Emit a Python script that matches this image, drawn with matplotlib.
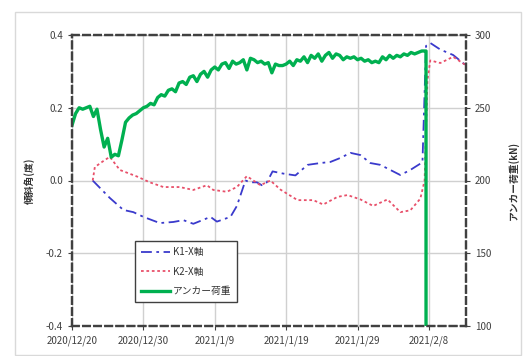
#!/usr/bin/env python3

import matplotlib
matplotlib.use('Agg')
import matplotlib.pyplot as plt
import matplotlib.dates as mdates
import pandas as pd
from matplotlib.patches import Rectangle

plt.rcParams['font.family'] = ['Noto Sans CJK JP', 'DejaVu Sans']

start = pd.Timestamp('2020-12-20')

# anchor load (kN), half-day samples from 12/20
load_days = [i * 0.5 for i in range(100)] + [49.6, 49.6]
load_kN = [238, 246, 250, 249, 250, 251, 244, 249, 235, 223,
           229, 216, 218, 217, 228, 240, 243, 245, 246, 248,
           250, 251, 253, 252, 257, 259, 258, 262, 263, 261,
           267, 268, 266, 271, 272, 268, 273, 275, 271, 276,
           278, 276, 280, 281, 277, 282, 280, 281, 283, 276,
           284, 283, 281, 282, 280, 281, 274, 280, 279, 279,
           280, 282, 279, 283, 282, 285, 281, 286, 284, 287,
           282, 286, 288, 284, 287, 286, 283, 285, 284, 285,
           283, 284, 282, 283, 281, 282, 281, 285, 283, 286,
           284, 286, 285, 287, 286, 288, 287, 288, 289, 289,
           289, 0]

# tilt angle K1-X
k1_days = [2.9, 5.3, 7.2, 8.6, 10.0, 12.3, 14.2, 15.6, 17.0, 19.4,
           20.3, 22.2, 23.1, 24.3, 25.0, 25.9, 26.6, 27.3, 28.1, 29.6,
           31.3, 33.0, 34.8, 36.2, 37.6, 39.0, 40.4, 41.8, 43.2, 44.6,
           46.0, 47.4, 49.1, 49.6, 50.2, 51.6, 53.4, 55.1]
k1_deg = [0.0, -0.048, -0.081, -0.087, -0.100, -0.117, -0.114, -0.109, -0.119, -0.100,
          -0.113, -0.100, -0.070, 0.0, -0.005, -0.005, -0.013, -0.005, 0.025, 0.019,
          0.014, 0.043, 0.048, 0.051, 0.062, 0.076, 0.070, 0.048, 0.043, 0.029,
          0.015, 0.029, 0.050, 0.370, 0.378, 0.360, 0.345, 0.318]

# tilt angle K2-X
k2_days = [2.9, 3.2, 4.5, 5.3, 6.7, 9.1, 10.9, 12.8, 15.1, 17.0,
           18.9, 19.8, 21.7, 23.1, 24.5, 25.4, 26.4, 27.8, 29.2, 31.6,
           33.8, 35.2, 37.2, 38.6, 40.4, 42.2, 44.2, 46.0, 47.4, 48.8,
           49.4, 49.8, 50.2, 51.6, 53.4, 55.1]
k2_deg = [0.0, 0.037, 0.055, 0.065, 0.029, 0.011, -0.005, -0.018, -0.018, -0.026,
          -0.013, -0.026, -0.031, -0.018, 0.012, 0.0, -0.013, 0.0, -0.025, -0.054,
          -0.054, -0.066, -0.045, -0.040, -0.052, -0.070, -0.052, -0.087, -0.082, -0.050,
          0.0, 0.276, 0.330, 0.323, 0.340, 0.318]


def to_dates(days):
    return start + pd.to_timedelta(days, unit='D')


fig = plt.figure(figsize=(5.27, 3.56), dpi=100)
fig.patches.append(Rectangle((15 / 527, 1 - 355 / 356), 506 / 527, 343 / 356,
                             transform=fig.transFigure, fill=False,
                             edgecolor='#d9d9d9', linewidth=1.0))
ax1 = fig.add_axes([72 / 527, 1 - 326 / 356, 394 / 527, 291 / 356])
ax2 = ax1.twinx()

lineK1, = ax1.plot(to_dates(k1_days), k1_deg, color='#3a3acc', linewidth=1.3,
                   linestyle=(0, (6, 2.5, 1.5, 2.5)), label='K1-X軸')
lineK2, = ax1.plot(to_dates(k2_days), k2_deg, color='#e8506a', linewidth=1.3,
                   linestyle=(0, (1.5, 1.5)), label='K2-X軸')
lineLoad, = ax2.plot(to_dates(load_days), load_kN, color='#00b050', linewidth=2.4,
                     label='アンカー荷重')

ax1.set_xlim(start, start + pd.Timedelta(days=55.2))
ax1.set_ylim(-0.4, 0.4)
ax1.set_yticks([-0.4, -0.2, 0.0, 0.2, 0.4])
ax1.yaxis.set_major_formatter(plt.FuncFormatter(lambda v, p: f'{v:.1f}'))
ax2.set_ylim(100, 300)
ax2.set_yticks([100, 150, 200, 250, 300])

xticks = [start + pd.Timedelta(days=d) for d in range(0, 51, 10)]
ax1.set_xticks(xticks)
ax1.xaxis.set_major_formatter(plt.FuncFormatter(
    lambda v, p: (lambda d: f'{d.year}/{d.month}/{d.day}')(mdates.num2date(v))))

ax1.grid(True, color='#d0d0d0', linewidth=1.0)
ax1.set_axisbelow(True)

for ax in (ax1, ax2):
    for s in ax.spines.values():
        s.set_linestyle((0, (3, 2)))
        s.set_color('#404040')
        s.set_linewidth(1.6)
    ax.tick_params(labelsize=7, colors='#404040', length=3, width=0.8)

ax1.set_ylabel('傾斜角(度)', fontsize=7, fontweight='bold', color='#333333', labelpad=8)
ax2.set_ylabel('アンカー荷重(kN)', fontsize=7, fontweight='bold', color='#333333',
               rotation=90, labelpad=12)

lines = [lineK1, lineK2, lineLoad]
leg = ax2.legend(lines, [l.get_label() for l in lines], loc='lower left',
                 bbox_to_anchor=(0.147, 0.065), fontsize=7, fancybox=False,
                 framealpha=1, edgecolor='#404040', handlelength=3.0,
                 borderpad=0.6, labelspacing=1.0, handletextpad=0.3)
leg.get_frame().set_linewidth(1.0)
for t in leg.get_texts():
    t.set_color('#333333')

plt.savefig('out.png', dpi=100)
